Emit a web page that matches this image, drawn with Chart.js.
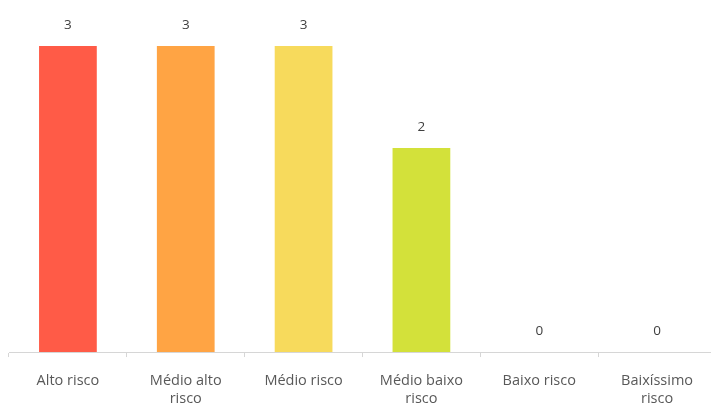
<!DOCTYPE html>
<html>
<head>
<meta charset="utf-8">
<script src="https://cdn.jsdelivr.net/npm/chart.js@4/dist/chart.umd.min.js"></script>
<style>
  html, body { margin: 0; padding: 0; background: #fff; overflow: hidden; }
  #wrap { width: 716px; height: 404px; }
</style>
</head>
<body>
<div id="wrap"><canvas id="riskChart"></canvas></div>
<script>
// Riscos por nível
const categories = [
  "Alto risco",
  ["Médio alto", "risco"],
  "Médio risco",
  ["Médio baixo", "risco"],
  "Baixo risco",
  ["Baixíssimo", "risco"],
];
const counts = [3, 3, 3, 2, 0, 0];
const barColors = ["#FF5B47", "#FFA444", "#F7DA5C", "#D3E13A", "#A8D04A", "#6CBF4A"];

// escreve o valor acima de cada barra
const valueLabels = {
  id: "valueLabels",
  afterDatasetsDraw(chart) {
    const ctx = chart.ctx;
    const meta = chart.getDatasetMeta(0);
    ctx.save();
    ctx.font = "13.5px 'Open Sans'";
    ctx.fillStyle = "#404040";
    ctx.textAlign = "center";
    ctx.textBaseline = "middle";
    meta.data.forEach((bar, i) => {
      ctx.fillText(String(counts[i]), bar.x, bar.y - 21);
    });
    ctx.restore();
  },
};

new Chart(document.getElementById("riskChart"), {
  type: "bar",
  data: {
    labels: categories,
    datasets: [
      {
        data: counts,
        backgroundColor: barColors,
        categoryPercentage: 1,
        barPercentage: 0.49,
      },
    ],
  },
  options: {
    responsive: true,
    maintainAspectRatio: false,
    animation: false,
    layout: { padding: { top: 46, left: 9, right: 0, bottom: -19 } },
    plugins: {
      legend: { display: false },
      tooltip: { enabled: false },
    },
    scales: {
      x: {
        border: { color: "#d6d6d6", width: 1 },
        grid: {
          offset: true,
          drawOnChartArea: false,
          drawTicks: true,
          tickLength: 5,
          color: "#d6d6d6",
        },
        ticks: {
          color: "#595959",
          font: { family: "'Open Sans'", size: 14.5, lineHeight: 1.24 },
          padding: 15,
          maxRotation: 0,
          autoSkip: false,
        },
      },
      y: {
        display: false,
        min: 0,
        max: 3,
      },
    },
  },
  plugins: [valueLabels],
});
</script>
</body>
</html>
